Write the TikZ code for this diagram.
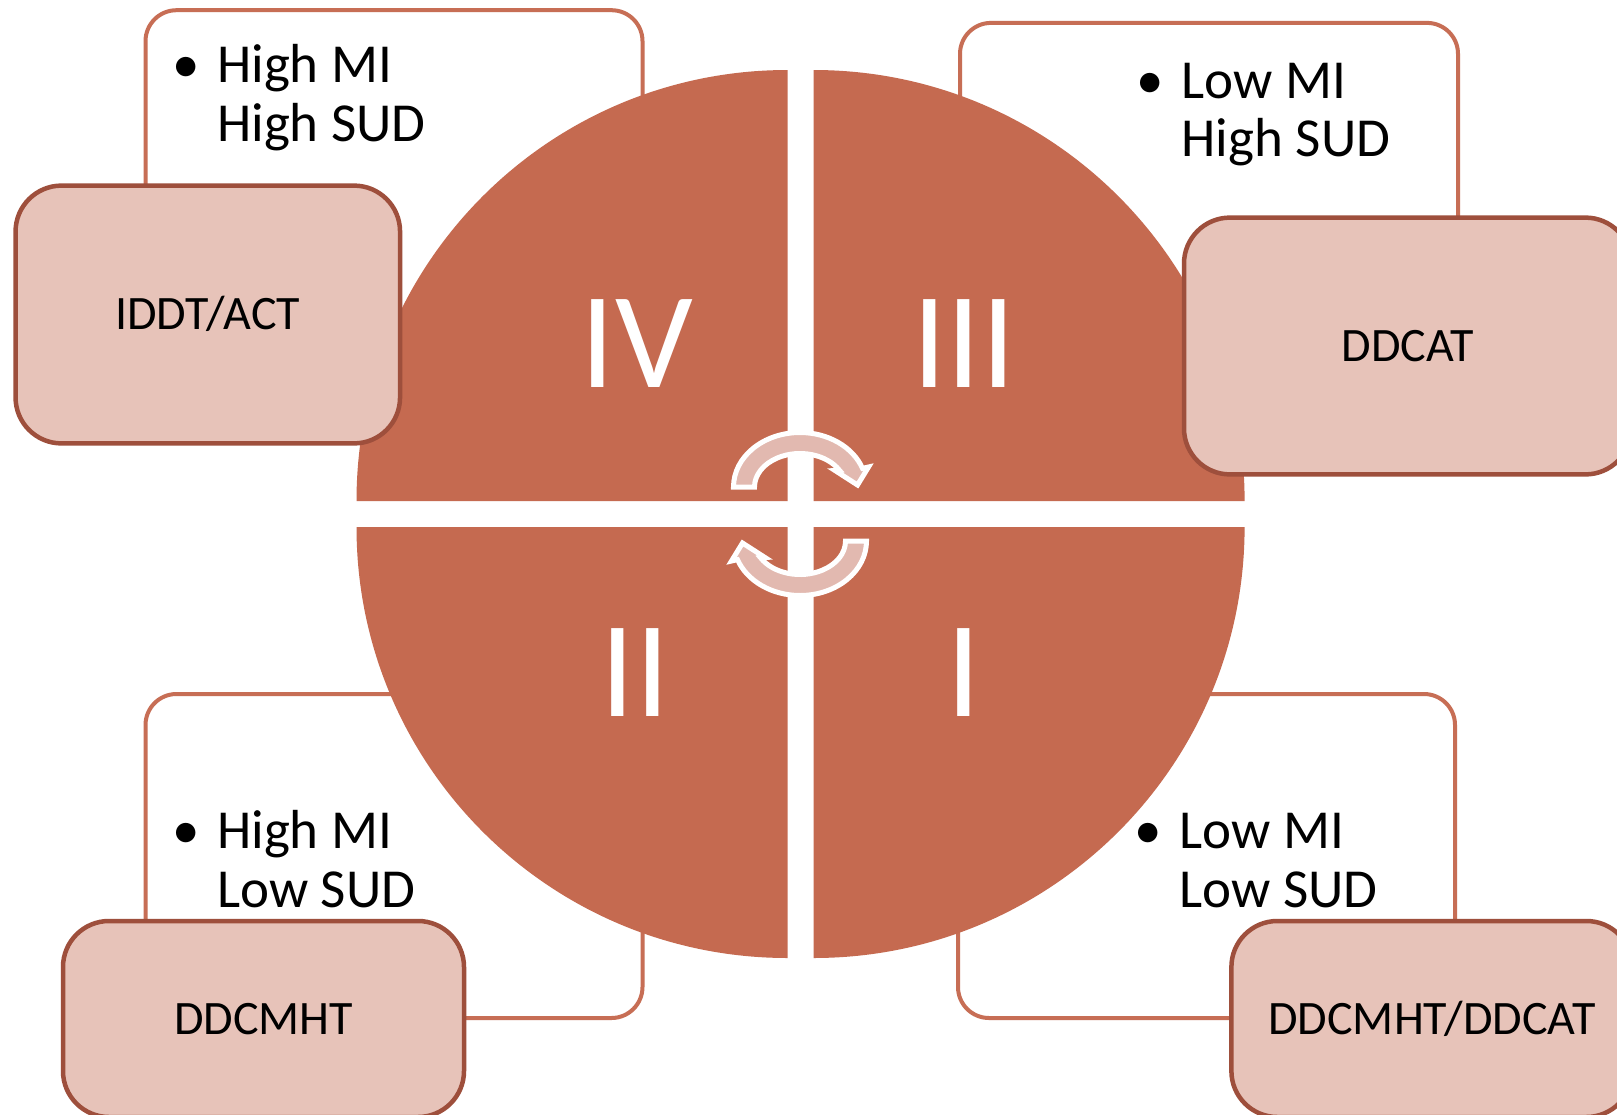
\documentclass[tikz,border=0pt]{standalone}
\usepackage{fontspec}
\setmainfont{Carlito}
\definecolor{quadfill}{HTML}{C56A50}
\definecolor{boxline}{HTML}{C76E55}
\definecolor{labfill}{HTML}{E7C3B9}
\definecolor{labline}{HTML}{9E4F3C}
\definecolor{arrowfill}{HTML}{E2B9B0}
\newcommand\cyclearrowpath{(180:66.5 and 54.5) arc[start angle=180, end angle=20, x radius=66.5, y radius=54.5] -- (68.5,20) -- (57.5,2) -- (35,16.5) -- (30:45.5 and 33.5) arc[start angle=30, end angle=180, x radius=45.5, y radius=33.5] -- cycle}
\begin{document}
\begin{tikzpicture}[x=1pt,y=-1pt,
  txtbox/.style={draw=boxline, line width=4pt, fill=white, rounded corners=31pt, inner sep=0pt, rectangle},
  labbox/.style={draw=labline, line width=4.5pt, fill=labfill, rounded corners=46pt, inner sep=0pt, rectangle,
     font=\fontsize{48}{58}\selectfont, text height=30.3pt, text depth=0pt},
  bul/.style={anchor=base west, inner sep=0pt, font=\fontsize{55}{59}\selectfont},
  bdot/.style={anchor=base, inner sep=0pt, font=\fontsize{55}{59}\selectfont},
  quad/.style={fill=quadfill},
  rom/.style={text=white, inner sep=0pt, font=\fontsize{137}{140}\selectfont, text height=86.6pt, text depth=0pt},
  cyc/.style={fill=arrowfill, draw=white, line width=5pt, line join=miter}]
\useasboundingbox (0,0) rectangle (1617,1114);
\clip (0,0) rectangle (1617,1114);
\fill[white] (0,0) rectangle (1617,1114);

% text boxes (behind)
\node[txtbox, minimum width=497pt, minimum height=324pt] (tbTL) at (394,172.2) {};
\node[txtbox, minimum width=498pt, minimum height=324pt] (tbTR) at (1209,184.9) {};
\node[txtbox, minimum width=497pt, minimum height=324pt] (tbBL) at (394,856) {};
\node[txtbox, minimum width=497pt, minimum height=324pt] (tbBR) at (1206.5,856) {};

% bullet texts
\node[bdot] (d1) at (186,82.5) {•};
\node[bul] (t1a) at (217,82.5) {High MI};
\node[bul] (t1b) at (217,141.3) {High SUD};
\node[bdot] (d2) at (1150,98) {•};
\node[bul] (t2a) at (1181.5,98) {Low MI};
\node[bul] (t2b) at (1181.5,156.7) {High SUD};
\node[bdot] (d3) at (186,848.7) {•};
\node[bul] (t3a) at (217,848.7) {High MI};
\node[bul] (t3b) at (217,907.5) {Low SUD};
\node[bdot] (d4) at (1148,848.7) {•};
\node[bul] (t4a) at (1179.5,848.7) {Low MI};
\node[bul] (t4b) at (1179.5,907.5) {Low SUD};

% circle quarters
\fill[quad] (787.5,501) -- ++(-431,0) arc[start angle=180, end angle=270, radius=431] -- cycle;
\fill[quad] (813.6,501) -- ++(431,0) arc[start angle=0, end angle=-90, radius=431] -- cycle;
\fill[quad] (787.5,527) -- ++(-431,0) arc[start angle=180, end angle=90, radius=431] -- cycle;
\fill[quad] (813.6,527) -- ++(431,0) arc[start angle=0, end angle=90, radius=431] -- cycle;

% roman numerals
\node[rom] (nIV) at (637,344) {IV};
\node[rom] (nIII) at (964,344) {III};
\node[rom] (nII) at (635.3,673) {II};
\node[rom] (nI) at (964,673) {I};

% cycle arrows
\begin{scope}[shift={(800,487)}, yscale=-1]
  \filldraw[cyc] \cyclearrowpath;
\end{scope}
\begin{scope}[shift={(800,541)}, yscale=-1, rotate=180]
  \filldraw[cyc] \cyclearrowpath;
\end{scope}

% label boxes (front)
\node[labbox, minimum width=384.5pt, minimum height=257.8pt] (lTL) at (207.8,314.5) {IDDT/ACT};
\node[labbox, minimum width=447.4pt, minimum height=256.8pt] (lTR) at (1407.7,346) {DDCAT};
\node[labbox, minimum width=401pt, minimum height=196pt] (lBL) at (263.5,1019) {DDCMHT};
\node[labbox, minimum width=401pt, minimum height=196pt] (lBR) at (1431.9,1019) {DDCMHT/DDCAT};
\end{tikzpicture}
\end{document}
